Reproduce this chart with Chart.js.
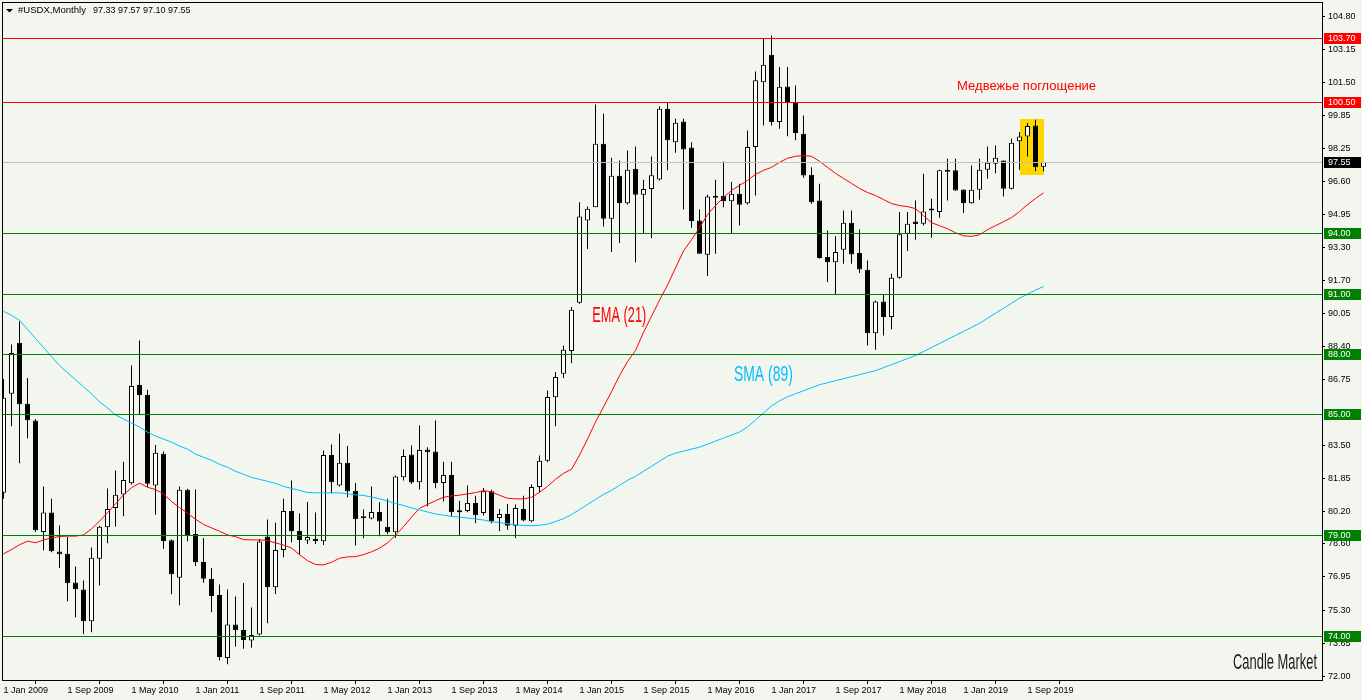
<!DOCTYPE html>
<html>
<head>
<meta charset="utf-8">
<title>#USDX, Monthly</title>
<script src="https://cdn.jsdelivr.net/npm/chart.js@4.4.1/dist/chart.umd.min.js"></script>
<style>
  html, body { margin: 0; padding: 0; background: #F3F6EE; }
  canvas { display: block; }
</style>
</head>
<body>
<canvas id="usdx" width="1362" height="700"></canvas>
<script>
// monthly bars, Jan 2009 .. Nov 2019 (index 0 = Jan 2009)
const opens = [
  81.13, 86.05, 88.58, 85.55, 84.72, 79.19, 80.15, 78.21, 78.10, 76.67,
  76.33, 74.75, 77.85, 79.42, 80.38, 81.05, 81.61, 86.49, 86.00, 81.49,
  83.07, 78.78, 76.91, 81.28, 79.09, 77.70, 76.86, 76.05, 72.93, 74.59,
  74.32, 73.79, 74.09, 78.96, 76.44, 78.29, 80.23, 79.24, 78.76, 78.84,
  78.72, 83.01, 81.49, 82.62, 81.23, 79.93, 79.85, 80.18, 79.45, 79.17,
  81.90, 83.03, 81.66, 83.28, 83.18, 81.62, 82.02, 80.23, 80.23, 80.63,
  80.13, 81.21, 79.88, 80.08, 79.49, 80.33, 79.72, 81.42, 82.72, 85.88,
  87.04, 88.17, 90.57, 94.66, 95.32, 98.47, 94.74, 96.88, 95.52, 97.23,
  95.94, 96.22, 96.70, 100.21, 98.55, 99.58, 98.29, 94.66, 92.96, 95.79,
  95.89, 95.61, 95.99, 95.52, 98.31, 101.53, 102.89, 99.55, 101.32, 100.49,
  98.97, 96.93, 95.65, 92.84, 92.59, 93.20, 94.55, 93.04, 92.21, 89.06,
  90.64, 89.86, 91.81, 94.00, 94.61, 94.50, 95.19, 95.08, 97.08, 97.15,
  96.20, 95.52, 96.18, 97.18, 97.48, 97.64, 96.23, 98.59, 98.83, 99.38,
  97.33
];
const highs = [
  86.79, 88.50, 89.64, 86.84, 84.80, 81.44, 80.83, 79.51, 78.93, 77.47,
  76.77, 78.41, 79.50, 81.34, 82.24, 82.67, 87.45, 88.70, 86.25, 83.51,
  83.18, 78.81, 81.44, 81.33, 81.29, 78.88, 77.39, 76.58, 76.33, 75.98,
  76.65, 75.43, 78.84, 79.80, 79.64, 80.84, 81.74, 80.10, 80.68, 80.15,
  83.23, 83.53, 84.06, 83.46, 81.62, 80.30, 81.44, 80.66, 80.83, 81.99,
  83.28, 83.48, 84.47, 83.39, 84.72, 82.68, 82.68, 80.74, 81.49, 80.99,
  81.37, 81.28, 80.33, 80.58, 80.55, 80.99, 81.54, 82.98, 86.21, 87.13,
  88.45, 90.36, 95.56, 95.36, 100.42, 99.96, 97.78, 97.64, 98.14, 98.34,
  96.68, 97.84, 100.33, 100.49, 99.71, 99.71, 98.55, 95.21, 95.94, 96.68,
  97.59, 96.57, 96.48, 99.13, 102.06, 103.69, 103.85, 102.28, 102.28, 101.37,
  99.88, 97.30, 96.48, 94.16, 93.87, 95.16, 95.16, 94.21, 92.67, 90.69,
  90.97, 92.01, 95.08, 95.08, 95.65, 96.98, 95.74, 97.18, 97.72, 97.72,
  96.20, 97.39, 97.72, 98.34, 98.39, 97.64, 98.72, 99.05, 99.50, 99.66,
  97.57
];
const lows = [
  80.83, 84.44, 82.60, 83.84, 79.18, 78.28, 78.18, 77.39, 75.75, 74.95,
  74.12, 74.21, 76.53, 78.63, 79.46, 79.97, 81.54, 85.02, 81.41, 80.04,
  78.35, 76.09, 75.55, 78.73, 77.49, 76.66, 75.20, 72.80, 72.62, 73.49,
  73.38, 73.43, 74.04, 74.65, 76.11, 77.93, 78.68, 78.06, 78.59, 78.59,
  78.54, 81.11, 81.44, 80.91, 78.51, 78.87, 79.80, 78.97, 79.07, 78.89,
  81.74, 81.57, 81.29, 80.46, 81.36, 80.70, 79.97, 79.01, 80.17, 79.62,
  80.00, 79.62, 79.22, 79.29, 78.89, 79.72, 79.67, 81.16, 82.65, 84.44,
  86.83, 87.57, 90.52, 93.24, 95.32, 94.36, 93.09, 93.54, 95.44, 92.59,
  94.03, 93.78, 96.65, 97.15, 98.02, 95.21, 94.30, 93.01, 91.90, 93.01,
  95.32, 94.00, 94.41, 95.44, 95.90, 99.38, 99.38, 99.22, 98.85, 98.64,
  96.78, 95.49, 92.76, 91.60, 90.99, 92.51, 92.51, 92.05, 88.45, 88.24,
  88.95, 89.25, 91.76, 93.14, 93.70, 94.41, 93.80, 94.79, 95.65, 96.12,
  95.03, 95.49, 95.69, 96.73, 97.01, 95.85, 96.20, 97.18, 97.84, 97.11,
  97.10
];
const closes = [
  85.85, 88.08, 85.53, 84.74, 79.27, 80.15, 78.23, 78.08, 76.64, 76.34,
  74.75, 77.90, 79.44, 80.33, 81.03, 81.77, 86.44, 85.98, 81.58, 83.12,
  78.74, 77.09, 81.28, 78.98, 77.68, 76.86, 76.01, 72.97, 74.59, 74.30,
  73.82, 74.07, 78.71, 76.44, 78.29, 80.23, 79.22, 78.79, 78.94, 78.72,
  83.01, 81.66, 82.62, 81.21, 79.82, 79.87, 80.18, 79.70, 79.17, 81.94,
  82.96, 81.64, 83.26, 83.15, 81.61, 82.02, 80.17, 80.17, 80.63, 80.02,
  81.21, 79.72, 80.08, 79.49, 80.38, 79.75, 81.42, 82.72, 85.89, 86.88,
  88.24, 90.22, 94.86, 95.24, 98.47, 94.74, 96.88, 95.52, 97.18, 95.94,
  96.22, 96.91, 100.21, 98.64, 99.51, 98.19, 94.63, 93.01, 95.85, 95.89,
  95.61, 95.99, 95.44, 98.31, 101.62, 102.40, 99.55, 101.30, 100.54, 99.00,
  96.90, 95.57, 92.79, 92.59, 93.09, 94.55, 92.97, 92.23, 89.06, 90.64,
  89.86, 91.81, 93.97, 94.50, 94.48, 95.11, 95.16, 97.15, 97.18, 96.15,
  95.52, 96.18, 97.18, 97.53, 97.77, 96.23, 98.52, 98.83, 99.35, 97.31,
  97.55
];
// indicator lines
const ema21 = [
  78.10, 78.31, 78.55, 78.73, 78.65, 78.79, 78.89, 78.96, 78.98, 78.98,
  79.04, 79.34, 79.72, 80.14, 80.58, 81.03, 81.38, 81.61, 81.41, 81.29,
  81.08, 80.70, 80.40, 80.12, 79.82, 79.56, 79.39, 79.22, 79.04, 78.95,
  78.81, 78.79, 78.79, 78.76, 78.64, 78.54, 78.39, 78.06, 77.76, 77.57,
  77.55, 77.68, 77.88, 77.95, 77.96, 78.06, 78.20, 78.38, 78.64, 79.02,
  79.45, 79.92, 80.36, 80.55, 80.74, 80.91, 80.98, 81.01, 81.08, 81.14,
  81.24, 81.18, 81.01, 80.86, 80.83, 80.83, 80.91, 81.16, 81.45, 81.80,
  82.10, 82.30, 83.00, 83.80, 84.65, 85.40, 86.15, 86.95, 87.65, 88.20,
  89.10, 89.90, 90.70, 91.45, 92.30, 93.15, 93.70, 94.30, 94.95, 95.40,
  95.80, 96.15, 96.40, 96.65, 96.95, 97.15, 97.30, 97.55, 97.75, 97.85,
  97.88, 97.85, 97.60, 97.30, 97.00, 96.75, 96.50, 96.25, 96.05, 95.90,
  95.70, 95.50, 95.40, 95.35, 95.25, 94.90, 94.55, 94.40, 94.25, 94.05,
  93.90, 93.87, 93.95, 94.20, 94.40, 94.60, 94.80, 95.10, 95.45, 95.75,
  96.03
];
const sma89 = [
  90.15, 89.95, 89.70, 89.25, 88.80, 88.35, 87.90, 87.45, 87.10, 86.75,
  86.40, 86.05, 85.65, 85.35, 85.00, 84.80, 84.60, 84.40, 84.15, 83.95,
  83.80, 83.65, 83.45, 83.30, 83.05, 82.90, 82.75, 82.55, 82.40, 82.20,
  82.05, 81.90, 81.80, 81.70, 81.60, 81.45, 81.35, 81.25, 81.15, 81.13,
  81.13, 81.13, 81.13, 81.08, 81.03, 81.00, 80.92, 80.83, 80.72, 80.60,
  80.50, 80.38, 80.28, 80.18, 80.08, 80.02, 79.96, 79.92, 79.88, 79.83,
  79.78, 79.70, 79.65, 79.60, 79.54, 79.51, 79.50, 79.52, 79.58, 79.70,
  79.85, 80.05, 80.30, 80.55, 80.80, 81.05, 81.25, 81.50, 81.75, 81.95,
  82.20, 82.45, 82.70, 82.95, 83.10, 83.20, 83.30, 83.40, 83.55, 83.70,
  83.85, 84.00, 84.15, 84.40, 84.75, 85.10, 85.45, 85.70, 85.90, 86.05,
  86.20, 86.35, 86.50, 86.60, 86.70, 86.80, 86.90, 87.00, 87.10, 87.20,
  87.35, 87.50, 87.65, 87.80, 87.95, 88.15, 88.35, 88.55, 88.75, 88.95,
  89.15, 89.35, 89.55, 89.80, 90.05, 90.30, 90.55, 90.80, 91.00, 91.20,
  91.38
];

// axis labels
const xTickLabels = [
  '1 Jan 2009', '1 Sep 2009', '1 May 2010', '1 Jan 2011', '1 Sep 2011', '1 May 2012',
  '1 Jan 2013', '1 Sep 2013', '1 May 2014', '1 Jan 2015', '1 Sep 2015', '1 May 2016',
  '1 Jan 2017', '1 Sep 2017', '1 May 2018', '1 Jan 2019', '1 Sep 2019'
];
const yTicks = [
  104.80, 103.15, 101.50, 99.85, 98.25, 96.60, 94.95, 93.30, 91.70, 90.05,
  88.40, 86.75, 83.50, 81.85, 80.20, 78.60, 76.95, 75.30, 73.65, 72.00
];

// horizontal levels drawn on the chart
const levels = [103.70, 100.50, 94.00, 91.00, 88.00, 85.00, 79.00, 74.00];
const lastPrice = closes[closes.length - 1];

// bearish engulfing box (bar index range and price range)
const patternBox = { from: 127, to: 130, top: 99.71, bottom: 96.93 };

const BG = '#F3F6EE';
const FONT = "'Liberation Sans', Arial, sans-serif";

const wicks = highs.map((h, i) => ({ x: i, y: [lows[i], h] }));
const bodies = opens.map((o, i) => ({ x: i, y: [o, closes[i]] }));
const bodyFill = opens.map((o, i) => closes[i] >= o ? '#FFFFFF' : '#000000');

function fittedText(ctx, text, left, midY, size, width, color) {
  ctx.save();
  ctx.font = size + 'px ' + FONT;
  const w = ctx.measureText(text).width;
  ctx.translate(left, midY);
  ctx.scale(width / w, 1);
  ctx.fillStyle = color;
  ctx.textAlign = 'left';
  ctx.textBaseline = 'middle';
  ctx.fillText(text, 0, 0);
  ctx.restore();
}

const decor = {
  id: 'decor',
  beforeDraw(chart) {
    const ctx = chart.ctx;
    ctx.save();
    ctx.fillStyle = BG;
    ctx.fillRect(0, 0, chart.width, chart.height);
    ctx.restore();
  },
  beforeDatasetsDraw(chart) {
    const { ctx, scales: { x, y } } = chart;
    ctx.save();
    ctx.fillStyle = '#FFD700';
    const x0 = Math.round(x.getPixelForValue(patternBox.from));
    const x1 = Math.round(x.getPixelForValue(patternBox.to));
    const y0 = Math.round(y.getPixelForValue(patternBox.top));
    const y1 = Math.round(y.getPixelForValue(patternBox.bottom));
    ctx.fillRect(x0, y0, x1 - x0, y1 - y0);
    ctx.restore();
  },
  afterDraw(chart) {
    const { ctx, chartArea: a, scales: { x, y } } = chart;
    ctx.save();

    // level lines
    ctx.lineWidth = 1;
    const drawLevel = (v, color) => {
      const py = Math.floor(y.getPixelForValue(v)) + 0.5;
      ctx.strokeStyle = color;
      ctx.beginPath();
      ctx.moveTo(a.left, py);
      ctx.lineTo(a.right, py);
      ctx.stroke();
    };
    drawLevel(lastPrice, '#C0C0C0');
    levels.forEach(v => drawLevel(v, v > lastPrice ? '#FF0000' : '#008000'));

    // frame
    ctx.strokeStyle = '#000000';
    ctx.strokeRect(a.left + 0.5, a.top + 0.5, a.right - a.left, a.bottom - a.top);

    // price tags on the right axis
    const tag = (v, color) => {
      const py = Math.floor(y.getPixelForValue(v));
      ctx.fillStyle = color;
      ctx.fillRect(a.right + 2, py - 5, 37, 11);
      ctx.fillStyle = '#FFFFFF';
      ctx.font = '9px ' + FONT;
      ctx.textAlign = 'left';
      ctx.textBaseline = 'middle';
      ctx.fillText(v.toFixed(2), a.right + 6, py + 1);
    };
    levels.forEach(v => tag(v, v > lastPrice ? '#FF0000' : '#008000'));
    tag(lastPrice, '#000000');

    // header
    ctx.fillStyle = '#000000';
    ctx.beginPath();
    ctx.moveTo(6, 9); ctx.lineTo(13, 9); ctx.lineTo(9.5, 12.5); ctx.closePath();
    ctx.fill();
    ctx.font = '9px ' + FONT;
    ctx.textAlign = 'left';
    ctx.textBaseline = 'middle';
    const n = opens.length - 1;
    fittedText(ctx, '#USDX,Monthly', 18, 11, 9, 68, '#000000');
    ctx.fillText([opens[n], highs[n], lows[n], closes[n]].map(v => v.toFixed(2)).join(' '), 93, 11);

    // text labels anchored to bar index / price
    const px = m => x.getPixelForValue(m);
    const py = v => y.getPixelForValue(v);
    fittedText(ctx, 'Медвежье поглощение', px(119.2), py(101.32), 12.5, 139, '#FF0000');
    fittedText(ctx, 'EMA (21)', px(73.6), py(89.92), 22, 54, '#FF0000');
    fittedText(ctx, 'SMA (89)', px(91.3), py(86.98), 22, 59, '#00BFFF');
    fittedText(ctx, 'Candle Market', a.right - 89, a.bottom - 17, 22, 84, '#1A1A1A');

    ctx.restore();
  }
};

new Chart(document.getElementById('usdx'), {
  type: 'bar',
  data: {
    datasets: [
      {
        type: 'line',
        label: 'SMA (89)',
        data: sma89.map((v, i) => ({ x: i, y: v })),
        borderColor: '#00BFFF',
        borderWidth: 1,
        pointRadius: 0,
        tension: 0,
        order: 1
      },
      {
        type: 'line',
        label: 'EMA (21)',
        data: ema21.map((v, i) => ({ x: i, y: v })),
        borderColor: '#FF0000',
        borderWidth: 1,
        pointRadius: 0,
        tension: 0,
        order: 1
      },
      {
        label: 'wicks',
        data: wicks,
        backgroundColor: '#000000',
        borderWidth: 0,
        barThickness: 1,
        grouped: false,
        inflateAmount: 0,
        order: 3
      },
      {
        label: 'bodies',
        data: bodies,
        backgroundColor: bodyFill,
        borderColor: '#000000',
        borderWidth: 1,
        borderSkipped: false,
        barThickness: 5,
        minBarLength: 2,
        grouped: false,
        inflateAmount: 0,
        order: 2
      }
    ]
  },
  options: {
    responsive: false,
    animation: false,
    events: [],
    layout: { padding: { left: 2, top: 2, right: 0, bottom: 0 } },
    plugins: {
      legend: { display: false },
      tooltip: { enabled: false },
      title: { display: false }
    },
    scales: {
      x: {
        type: 'linear',
        min: -0.1875,
        max: 164.8125,
        offset: false,
        border: { display: false },
        grid: { drawOnChartArea: false, drawTicks: true, tickLength: 4, color: '#000000' },
        afterBuildTicks: s => { s.ticks = xTickLabels.map((t, i) => ({ value: i * 8 })); },
        afterFit: s => { s.height = 20; s.paddingLeft = 0; s.paddingRight = 0; },
        ticks: {
          autoSkip: false,
          maxRotation: 0,
          minRotation: 0,
          align: 'start',
          padding: 1,
          color: '#000000',
          font: { family: FONT, size: 9 },
          callback: (v, i) => xTickLabels[i]
        }
      },
      y: {
        position: 'right',
        min: 71.832,
        max: 105.513,
        border: { display: false },
        grid: { drawOnChartArea: false, drawTicks: true, tickLength: 3, color: '#000000' },
        afterBuildTicks: s => { s.ticks = yTicks.map(v => ({ value: v })); },
        afterFit: s => { s.width = 40; s.paddingTop = 0; s.paddingBottom = 0; },
        ticks: {
          padding: 3,
          color: '#000000',
          font: { family: FONT, size: 9 },
          callback: v => v.toFixed(2)
        }
      }
    }
  },
  plugins: [decor]
});
</script>
</body>
</html>
